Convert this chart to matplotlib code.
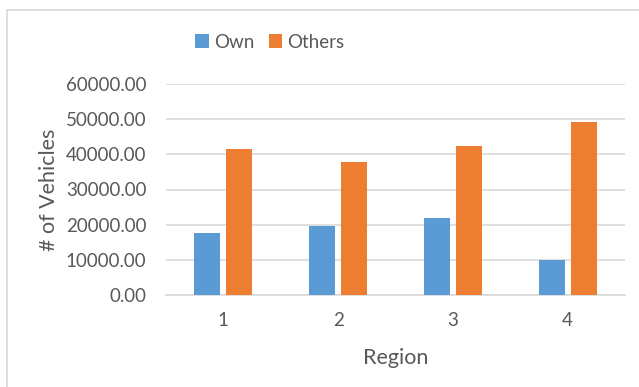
import numpy as np
import matplotlib
matplotlib.use("Agg")
import matplotlib.pyplot as plt
from matplotlib.lines import Line2D

regions = ["1", "2", "3", "4"]
own = [17700, 19500, 21800, 9950]
others = [41600, 37700, 42400, 49200]
yticks = [0, 10000, 20000, 30000, 40000, 50000, 60000]

plt.rcParams['font.family'] = ['Lato', 'DejaVu Sans']
grey = '#595959'

W, H = 639, 387
fig = plt.figure(figsize=(W / 100, H / 100), dpi=100)
ax = fig.add_axes([166 / W, 1 - 295 / H, (625 - 166) / W, (295 - 84) / H])

x = np.arange(len(regions))
bw = 0.226
off = 0.14
ax.bar(x - off, own, bw, color='#5B9BD5', label='Own', zorder=3)
ax.bar(x + off, others, bw, color='#ED7D31', label='Others', zorder=3)

ax.set_xlim(-0.5, len(regions) - 0.5)
ax.set_ylim(0, 60000)
ax.set_yticks(yticks)
ax.set_yticklabels([f"{v:.2f}" for v in yticks], fontsize=13.5, color=grey)
ax.set_xticks(x)
ax.set_xticklabels(regions, fontsize=13.5, color=grey)
ax.tick_params(length=0)
ax.tick_params(axis='y', pad=14)
ax.tick_params(axis='x', pad=12)
ax.grid(axis='y', color='#D9D9D9', linewidth=1.2, zorder=0)
for s in ['top', 'right', 'left']:
    ax.spines[s].set_visible(False)
ax.spines['bottom'].set_color('#D9D9D9')
ax.spines['bottom'].set_linewidth(1.2)

ax.set_xlabel('Region', fontsize=15.5, color=grey, labelpad=14)
ax.set_ylabel('# of Vehicles', fontsize=15.5, color=grey, labelpad=5)

fig.legend(loc='center', bbox_to_anchor=(270 / W, 1 - 42 / H), ncol=2,
           frameon=False, fontsize=13.5, handlelength=0.7, handleheight=0.7,
           handletextpad=0.3, columnspacing=0.75, labelcolor=grey)

# chart border (left and top edges visible)
fig.add_artist(Line2D([7 / W, 7 / W], [0, 1 - 10 / H], color='#D9D9D9', lw=1.2))
fig.add_artist(Line2D([7 / W, 1], [1 - 10 / H, 1 - 10 / H], color='#D9D9D9', lw=1.2))

fig.savefig('out.png', dpi=100)
